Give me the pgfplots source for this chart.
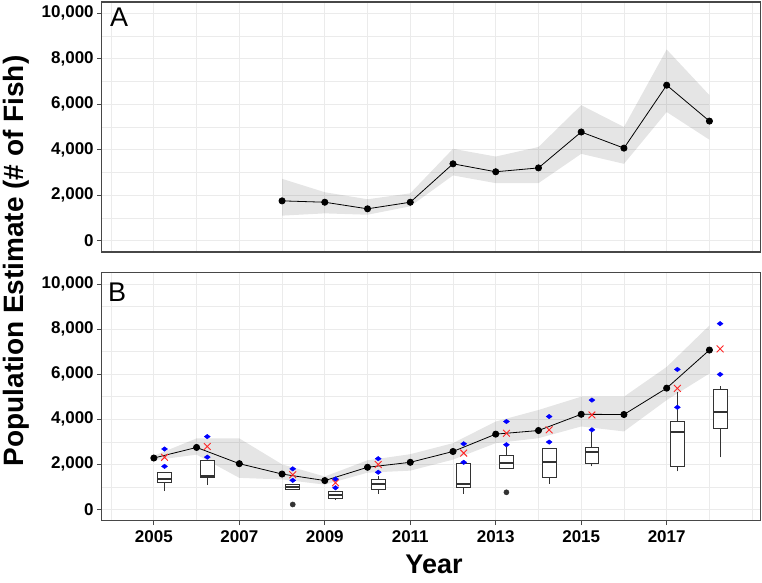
\documentclass[border=0pt]{standalone}
\usepackage{fontspec}
\setmainfont{Liberation Sans}
\usepackage{pgfplots}
\usepackage{pgfplotstable}
\pgfplotsset{compat=1.18}

% x values are years; axes use (year - 2000)
\pgfplotstableread{
x y
2008 1750
2009 1690
2010 1400
2011 1690
2012 3380
2013 3030
2014 3200
2015 4780
2016 4070
2017 6840
2018 5260
}\tabA

% ribbon A: upper bound forward, lower bound backward
\pgfplotstableread{
x y
2008 2720
2009 2130
2010 1820
2011 2080
2012 4040
2013 3700
2014 4120
2015 5960
2016 5000
2017 8410
2018 6400
2018 4440
2017 5660
2016 3380
2015 3820
2014 2530
2013 2530
2012 2870
2011 1510
2010 1140
2009 1200
2008 1100
}\ribA

\pgfplotstableread{
x y
2005 2280
2006 2750
2007 2030
2008 1570
2009 1280
2010 1870
2011 2090
2012 2570
2013 3340
2014 3500
2015 4220
2016 4210
2017 5380
2018 7070
}\tabB

\pgfplotstableread{
x y
2005 2380
2006 3150
2007 3150
2008 2000
2009 1460
2010 2180
2011 2450
2012 2940
2013 3900
2014 4410
2015 5000
2016 5000
2017 6320
2018 8160
2018 6030
2017 4850
2016 3460
2015 3680
2014 3160
2013 2940
2012 2210
2011 1720
2010 1630
2009 1100
2008 1330
2007 1400
2006 2430
2005 2180
}\ribB

\pgfplotstableread{
x y
2005.25 2310
2006.25 2790
2008.25 1540
2009.25 1180
2010.25 1990
2012.25 2500
2013.25 3380
2014.25 3530
2015.25 4190
2017.25 5370
2018.25 7120
}\tabX

\pgfplotstableread{
x y
2005.25 2680
2005.25 1910
2006.25 3230
2006.25 2320
2008.25 1800
2008.25 1290
2009.25 1350
2009.25 960
2010.25 2250
2010.25 1650
2012.25 2910
2012.25 2090
2013.25 3900
2013.25 2870
2014.25 4120
2014.25 2990
2015.25 4850
2015.25 3530
2017.25 6210
2017.25 4530
2018.25 8240
2018.25 5990
}\tabD

\pgfplotstableread{
x y
2008.25 220
2013.25 760
}\tabO

\newcommand\tickfont{\bfseries\fontsize{17}{17}\selectfont}

\pgfplotsset{
  panel/.style={
    scale only axis, width=659pt,
    xmin=3.78, xmax=19.2, ymin=-500, ymax=10500,
    scaled x ticks=false, scaled y ticks=false,
    axis line style={black!72, line width=1.1pt},
    grid=both,
    major grid style={black!8, line width=0.7pt},
    minor grid style={black!8, line width=0.5pt},
    xtick={5,7,9,11,13,15,17},
    minor xtick={4,6,8,10,12,14,16,18,19},
    ytick={0,2000,4000,6000,8000,10000},
    minor ytick={1000,3000,5000,7000,9000},
    yticklabels={0,{2,000},{4,000},{6,000},{8,000},{10,000}},
    tick align=outside, major tick length=4.5pt, minor tick length=0pt,
    tick style={black!72, line width=0.9pt},
    xtick pos=bottom, ytick pos=left,
    ticklabel style={font=\tickfont, text=black},
  },
  boxc/.style={black!80, line width=0.8pt},
}

% box: left, centre, right (x, years-2000), lower whisker, Q1, median, Q3, upper whisker
\newcommand\bx[8]{%
  \addplot[boxc] coordinates {(#2,#4) (#2,#5)};
  \addplot[boxc] coordinates {(#2,#7) (#2,#8)};
  \addplot[boxc, fill=white] coordinates {(#1,#5) (#3,#5) (#3,#7) (#1,#7)} -- cycle;
  \addplot[boxc, line width=2pt] coordinates {(#1,#6) (#3,#6)};
}

\begin{document}
\begin{tikzpicture}
\useasboundingbox (0,0) rectangle (762pt,582pt);

% Panel A
\begin{axis}[panel, at={(101.7pt,330pt)}, anchor=south west, height=250pt,
  xticklabels={}, xtick style={draw=none}]
  \addplot[fill=black, fill opacity=0.1, draw=none] table[x expr=\thisrow{x}-2000, y=y] {\ribA} -- cycle;
  \addplot[black, line width=0.8pt, mark=*, mark size=3.1pt] table[x expr=\thisrow{x}-2000, y=y] {\tabA};
\end{axis}

% Panel B
\begin{axis}[panel, at={(101.7pt,61.3pt)}, anchor=south west, height=248pt,
  xticklabels={2005,2007,2009,2011,2013,2015,2017},
  xticklabel style={yshift=-2pt}]
  \addplot[fill=black, fill opacity=0.1, draw=none] table[x expr=\thisrow{x}-2000, y=y] {\ribB} -- cycle;
  \addplot[black, line width=0.8pt, mark=*, mark size=3.1pt] table[x expr=\thisrow{x}-2000, y=y] {\tabB};

  \bx{5.09}{5.25}{5.41}{810}{1200}{1350}{1650}{1650}
  \bx{6.09}{6.25}{6.41}{1100}{1400}{1470}{2180}{2180}
  \bx{8.09}{8.25}{8.41}{910}{910}{1000}{1100}{1100}
  \bx{9.09}{9.25}{9.41}{410}{510}{620}{810}{810}
  \bx{10.09}{10.25}{10.41}{690}{910}{1150}{1350}{1470}
  \bx{12.09}{12.25}{12.41}{700}{960}{1120}{2060}{2060}
  \bx{13.09}{13.25}{13.41}{1800}{1800}{2060}{2380}{2790}
  \bx{14.09}{14.25}{14.41}{1150}{1400}{2100}{2720}{2720}
  \bx{15.09}{15.25}{15.41}{1910}{2030}{2540}{2750}{3450}
  \bx{17.09}{17.25}{17.41}{1690}{1910}{3450}{3900}{5220}
  \bx{18.09}{18.25}{18.41}{2310}{3600}{4340}{5320}{5470}

  \addplot[only marks, mark=*, mark size=2.6pt, black!80] table[x expr=\thisrow{x}-2000, y=y] {\tabO};
  \addplot[only marks, mark=x, mark size=4.8pt, red!85!white, mark options={line width=0.9pt}] table[x expr=\thisrow{x}-2000, y=y] {\tabX};
  \addplot[only marks, mark=diamond*, mark size=3pt, blue, mark options={rotate=90}] table[x expr=\thisrow{x}-2000, y=y] {\tabD};
\end{axis}

\node[rotate=90, anchor=base] at (23pt,321pt) {\bfseries\fontsize{28}{28}\selectfont Population Estimate (\# of Fish)};
\node[anchor=base] at (434pt,9pt) {\bfseries\fontsize{27}{27}\selectfont Year};
\node[anchor=base west, inner sep=0pt] at (110pt,555.3pt) {\fontsize{27}{27}\selectfont A};
\node[anchor=base west, inner sep=0pt] at (108pt,280.5pt) {\fontsize{27}{27}\selectfont B};
\end{tikzpicture}
\end{document}
